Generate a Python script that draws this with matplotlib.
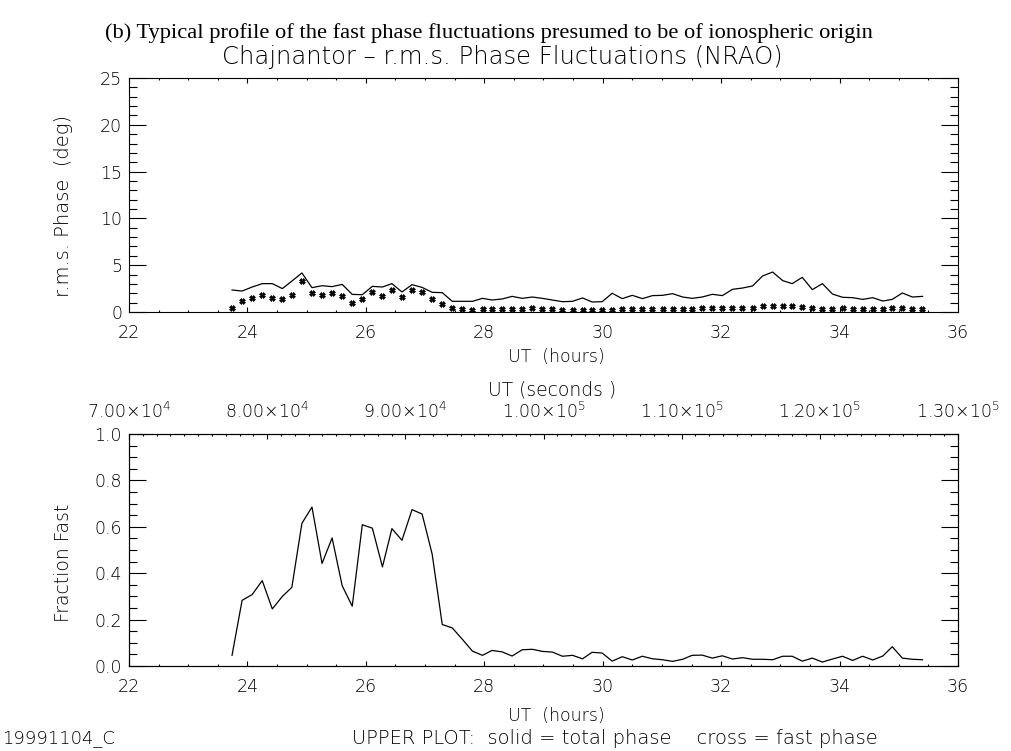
import matplotlib
matplotlib.use("Agg")
import matplotlib.pyplot as plt
from matplotlib import font_manager as fm
from matplotlib.ticker import MultipleLocator, FixedLocator, FixedFormatter

# ---------------------------------------------------------------- data
ut_hours = [23.74, 23.91, 24.08, 24.25, 24.42, 24.59, 24.75, 24.92, 25.09, 25.26,
            25.43, 25.60, 25.77, 25.94, 26.11, 26.28, 26.44, 26.61, 26.78, 26.95,
            27.12, 27.29, 27.46, 27.63, 27.80, 27.97, 28.13, 28.30, 28.47, 28.64,
            28.81, 28.98, 29.15, 29.32, 29.49, 29.66, 29.82, 29.99, 30.16, 30.33,
            30.50, 30.67, 30.84, 31.01, 31.18, 31.35, 31.51, 31.68, 31.85, 32.02,
            32.19, 32.36, 32.53, 32.70, 32.87, 33.04, 33.20, 33.37, 33.54, 33.71,
            33.88, 34.05, 34.22, 34.39, 34.56, 34.73, 34.89, 35.06, 35.23, 35.40]

total_phase = [2.35, 2.24, 2.67, 3.03, 3.03, 2.50, 3.30, 4.17, 2.60, 2.81,
               2.71, 2.95, 1.88, 1.85, 2.74, 2.67, 3.03, 2.14, 2.92, 2.63,
               2.10, 2.07, 1.14, 1.14, 1.14, 1.46, 1.28, 1.39, 1.67, 1.46,
               1.60, 1.46, 1.28, 1.10, 1.14, 1.50, 1.07, 1.10, 2.00, 1.43,
               1.78, 1.43, 1.75, 1.78, 1.96, 1.60, 1.46, 1.60, 1.89, 1.75,
               2.42, 2.56, 2.78, 3.85, 4.27, 3.35, 3.03, 3.70, 2.39, 3.03,
               1.92, 1.57, 1.53, 1.35, 1.53, 1.17, 1.35, 2.03, 1.60, 1.67]

fast_phase = [0.46, 1.17, 1.46, 1.82, 1.50, 1.35, 1.82, 3.28, 2.07, 1.82,
              2.00, 1.71, 0.93, 1.43, 2.10, 1.71, 2.31, 1.57, 2.39, 2.14,
              1.43, 0.85, 0.43, 0.36, 0.25, 0.28, 0.28, 0.28, 0.28, 0.32,
              0.39, 0.32, 0.28, 0.21, 0.25, 0.25, 0.25, 0.25, 0.25, 0.28,
              0.28, 0.28, 0.28, 0.28, 0.28, 0.28, 0.36, 0.39, 0.39, 0.39,
              0.43, 0.46, 0.46, 0.68, 0.68, 0.64, 0.60, 0.53, 0.39, 0.36,
              0.36, 0.39, 0.28, 0.28, 0.28, 0.32, 0.43, 0.43, 0.32, 0.28]

fraction_fast = [0.046, 0.283, 0.308, 0.368, 0.246, 0.300, 0.339, 0.615, 0.685, 0.442,
                 0.552, 0.346, 0.258, 0.609, 0.594, 0.427, 0.592, 0.542, 0.674, 0.655,
                 0.482, 0.179, 0.164, 0.115, 0.064, 0.046, 0.067, 0.061, 0.043, 0.070,
                 0.072, 0.063, 0.060, 0.042, 0.046, 0.031, 0.059, 0.056, 0.021, 0.040,
                 0.026, 0.042, 0.031, 0.027, 0.020, 0.029, 0.046, 0.047, 0.034, 0.044,
                 0.030, 0.036, 0.029, 0.029, 0.027, 0.042, 0.042, 0.021, 0.034, 0.017,
                 0.030, 0.042, 0.024, 0.042, 0.026, 0.043, 0.083, 0.034, 0.029, 0.027]

hour_ticks = [22, 24, 26, 28, 30, 32, 34, 36]
phase_ticks = [0, 5, 10, 15, 20, 25]
fraction_ticks = [0.0, 0.2, 0.4, 0.6, 0.8, 1.0]
second_ticks = [70000, 80000, 90000, 100000, 110000, 120000, 130000]
second_labels = [r"$\mathregular{7.00{\times}10^{4}}$", r"$\mathregular{8.00{\times}10^{4}}$",
                 r"$\mathregular{9.00{\times}10^{4}}$", r"$\mathregular{1.00{\times}10^{5}}$",
                 r"$\mathregular{1.10{\times}10^{5}}$", r"$\mathregular{1.20{\times}10^{5}}$",
                 r"$\mathregular{1.30{\times}10^{5}}$"]


# ---------------------------------------------------------------- fonts
def pick_thin_sans():
    wanted = [("DejaVu Sans", 200), ("Roboto", 300), ("Open Sans", 300),
              ("Lato", 300), ("Inter", 300)]
    faces = []
    for f in fm.fontManager.ttflist:
        w = f.weight
        if isinstance(w, str):
            w = fm.weight_dict.get(w, 400)
        faces.append((f.name, int(w), f.style))
    for name, w in wanted:
        for n, fw, st in faces:
            if n == name and fw == w and st == "normal":
                return name, w
    return "DejaVu Sans", 400


SANS, SANS_W = pick_thin_sans()
plt.rcParams["font.family"] = [SANS, "DejaVu Sans"]
plt.rcParams["font.weight"] = SANS_W
plt.rcParams["mathtext.fontset"] = "custom"
plt.rcParams["mathtext.rm"] = SANS
plt.rcParams["axes.linewidth"] = 0.8

W, H = 1012, 751
fig = plt.figure(figsize=(W / 100, H / 100), dpi=100)
fig.patch.set_facecolor("white")


def px_axes(left, top, right, bottom):
    return fig.add_axes([left / W, 1 - bottom / H, (right - left) / W, (bottom - top) / H])


def px_text(x, y, s, **kw):
    return fig.text(x / W, 1 - y / H, s, **kw)


TICK_FS = 12.5
LABEL_FS = 13.5
LINE_KW = dict(color="black", lw=0.9)


def style_axis(ax, xmaj_len, ymaj_len):
    ax.tick_params(which="both", direction="in", width=0.8, colors="black",
                   labelsize=TICK_FS)
    ax.tick_params(axis="x", which="major", length=xmaj_len, pad=9)
    ax.tick_params(axis="x", which="minor", length=xmaj_len / 2)
    ax.tick_params(axis="y", which="major", length=ymaj_len, pad=5)
    ax.tick_params(axis="y", which="minor", length=ymaj_len / 2)


# ---------------------------------------------------------------- upper panel
ax1 = px_axes(129, 78, 958, 312)
ax1.plot(ut_hours, total_phase, **LINE_KW)
ax1.plot(ut_hours, fast_phase, ls="none", marker="X", ms=3.8, mfc="black",
         mec="black", mew=0.5)
ax1.set_xlim(22, 36)
ax1.set_ylim(0, 25)
ax1.xaxis.set_major_locator(FixedLocator(hour_ticks))
ax1.xaxis.set_minor_locator(MultipleLocator(0.5))
ax1.yaxis.set_major_locator(FixedLocator(phase_ticks))
ax1.yaxis.set_minor_locator(MultipleLocator(1))
ax1.set_xticklabels([str(t) for t in hour_ticks])
ax1.set_yticklabels([str(t) for t in phase_ticks])
ax1.tick_params(top=True, right=True, which="both")
style_axis(ax1, 3.4, 12)

# ---------------------------------------------------------------- lower panel
ax2 = px_axes(129, 434, 958, 666)
ax2.plot(ut_hours, fraction_fast, **LINE_KW)
ax2.set_xlim(22, 36)
ax2.set_ylim(0, 1)
ax2.xaxis.set_major_locator(FixedLocator(hour_ticks))
ax2.xaxis.set_minor_locator(MultipleLocator(0.5))
ax2.yaxis.set_major_locator(FixedLocator(fraction_ticks))
ax2.yaxis.set_minor_locator(MultipleLocator(0.05))
ax2.set_xticklabels([str(t) for t in hour_ticks])
ax2.set_yticklabels([f"{t:.1f}" for t in fraction_ticks])
ax2.tick_params(top=False, right=True, which="both")
style_axis(ax2, 3.4, 12)

ax2t = ax2.twiny()
ax2t.set_xlim(70000, 130000)
ax2t.xaxis.set_major_locator(FixedLocator(second_ticks))
ax2t.xaxis.set_major_formatter(FixedFormatter(second_labels))
ax2t.xaxis.set_minor_locator(MultipleLocator(1000))
ax2t.tick_params(axis="x", which="both", direction="in", width=0.8,
                 labelsize=TICK_FS)
ax2t.tick_params(axis="x", which="major", length=3.4, pad=8.5)
ax2t.tick_params(axis="x", which="minor", length=1.7)

# ---------------------------------------------------------------- texts
px_text(105, 33, "(b) Typical profile of the fast phase fluctuations presumed to be of ionospheric origin",
        family=["Liberation Serif", "DejaVu Serif"], weight="normal", fontsize=16.2,
        ha="left", va="center")
px_text(222, 57, "Chajnantor \u2013 r.m.s. Phase Fluctuations (NRAO)",
        fontsize=17.5, ha="left", va="center")
px_text(64, 206, "r.m.s. Phase  (deg)", fontsize=14, rotation=90,
        ha="center", va="center")
px_text(556, 357, "UT  (hours)", fontsize=12.5, ha="center", va="center")
px_text(552, 390, "UT (seconds )", fontsize=LABEL_FS, ha="center", va="center")
px_text(64, 563, "Fraction Fast", fontsize=LABEL_FS, rotation=90,
        ha="center", va="center")
px_text(556, 716, "UT  (hours)", fontsize=12.5, ha="center", va="center")
px_text(2, 738, "19991104_C", fontsize=13, ha="left", va="center")
px_text(352, 738, "UPPER PLOT:  solid = total phase    cross = fast phase",
        fontsize=14, ha="left", va="center")

fig.savefig("out.png", dpi=100, facecolor="white")
